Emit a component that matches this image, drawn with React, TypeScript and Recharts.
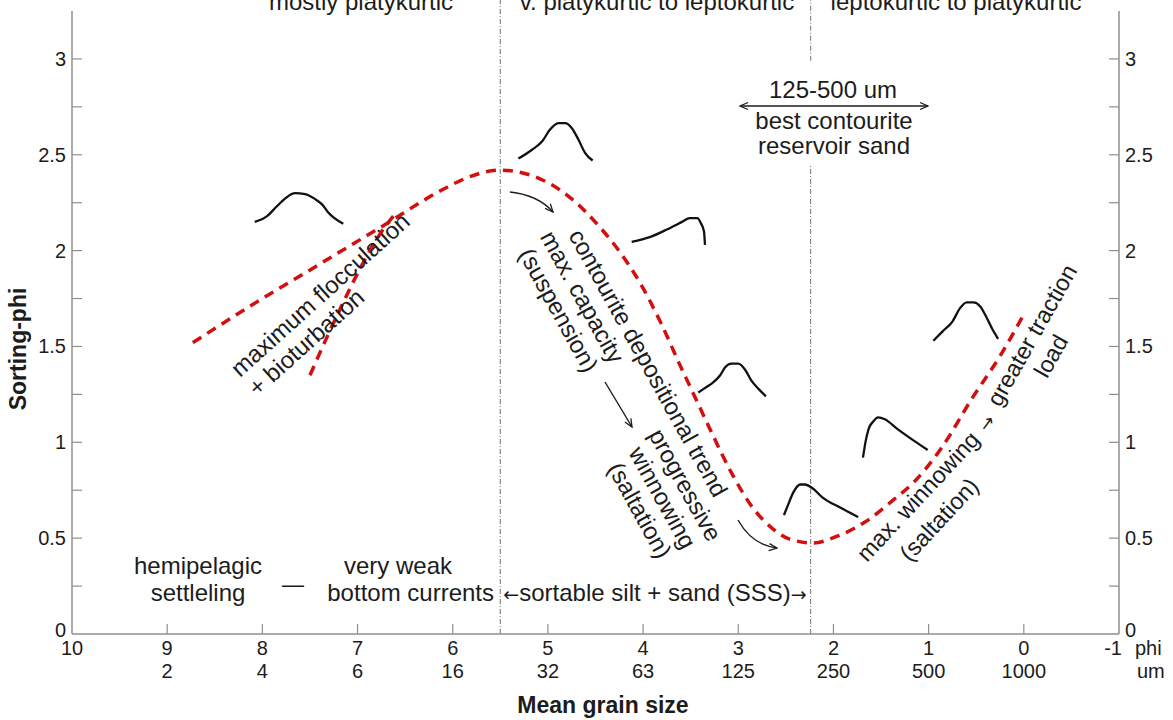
import React from "react";
import { LineChart, Line, XAxis, YAxis, ReferenceLine } from "recharts";

const W = 1173;
const H = 720;
const FONT = '"Liberation Sans", Arial, Helvetica, sans-serif';
const ARROW_FONT = '"DejaVu Sans", sans-serif';
const INK = "#1c1c1c";
const AXIS = "#8f8f8f";
const TREND_RED = "#d20f0f";

// phi scale along the bottom, micron sizes printed underneath
const PHI_TICKS = [10, 9, 8, 7, 6, 5, 4, 3, 2, 1, 0, -1];
const UM_LABELS = ["", "2", "4", "6", "16", "32", "63", "125", "250", "500", "1000", ""];
const SORT_TICKS = [0, 0.25, 0.5, 0.75, 1, 1.25, 1.5, 1.75, 2, 2.25, 2.5, 2.75, 3];

// kurtosis zone boundaries (phi)
const ZONE_BOUNDS = [5.5, 2.24];

// contourite depositional trend (red dashed)
const TREND_PHI = [8.73, 8.13, 7.43, 6.73, 6.1, 5.85, 5.5, 5.16, 4.8, 4.45, 4.24, 4.03, 3.82, 3.61, 3.43, 3.27, 3.06, 2.85, 2.64, 2.46, 2.21, 1.96, 1.65, 1.37, 1.16, 0.88, 0.53, 0.25, 0.02];
const TREND_SORT = [1.52, 1.71, 1.92, 2.13, 2.32, 2.38, 2.42, 2.39, 2.29, 2.12, 1.99, 1.83, 1.63, 1.4, 1.21, 1.04, 0.83, 0.66, 0.55, 0.495, 0.475, 0.51, 0.59, 0.7, 0.79, 0.96, 1.24, 1.45, 1.65];

// flocculation / bioturbation branch
const FLOC_PHI = [7.5, 7.32, 7.15, 6.97, 6.76, 6.59];
const FLOC_SORT = [1.35, 1.55, 1.73, 1.91, 2.09, 2.2];

// grain-size distribution sketches, [phi, sorting]
const DIST_A = [[8.08, 2.15], [7.95, 2.18], [7.85, 2.23], [7.74, 2.28], [7.66, 2.3], [7.55, 2.295], [7.45, 2.27], [7.37, 2.24], [7.31, 2.2], [7.15, 2.14]];
const DIST_B = [[5.31, 2.48], [5.17, 2.525], [5.06, 2.57], [4.98, 2.63], [4.89, 2.665], [4.82, 2.665], [4.75, 2.64], [4.68, 2.58], [4.61, 2.51], [4.53, 2.47]];
const DIST_C = [[4.12, 2.045], [3.93, 2.07], [3.75, 2.11], [3.59, 2.15], [3.51, 2.17], [3.43, 2.17], [3.39, 2.14], [3.36, 2.1], [3.35, 2.03]];
const DIST_D = [[3.42, 1.26], [3.33, 1.29], [3.27, 1.31], [3.19, 1.35], [3.14, 1.39], [3.07, 1.41], [3.0, 1.41], [2.93, 1.38], [2.86, 1.32], [2.79, 1.28], [2.71, 1.24]];
const DIST_E = [[2.52, 0.62], [2.48, 0.67], [2.42, 0.74], [2.35, 0.78], [2.3, 0.78], [2.22, 0.76], [2.11, 0.71], [1.93, 0.66], [1.74, 0.61]];
const DIST_F = [[1.69, 0.92], [1.66, 1.01], [1.63, 1.07], [1.58, 1.11], [1.53, 1.13], [1.46, 1.12], [1.33, 1.07], [1.16, 1.01], [1.01, 0.96]];
const DIST_G = [[0.95, 1.53], [0.85, 1.58], [0.75, 1.63], [0.67, 1.7], [0.6, 1.73], [0.53, 1.73], [0.46, 1.71], [0.39, 1.65], [0.33, 1.59], [0.27, 1.54]];

const ZONE_LABELS = ["mostly platykurtic", "v. platykurtic to leptokurtic", "leptokurtic to platykurtic"];

const trendData = TREND_PHI.map((phi, i) => ({ phi, sort: TREND_SORT[i] }));
const flocData = FLOC_PHI.map((phi, i) => ({ phi, sort: FLOC_SORT[i] }));
const distData = [DIST_A, DIST_B, DIST_C, DIST_D, DIST_E, DIST_F, DIST_G].map((pts) =>
  pts.map(([phi, sort]) => ({ phi, sort }))
);

const txt = { fontFamily: FONT, fill: INK } as const;

function PhiTick(props: any) {
  const { x, y, payload } = props;
  const v = payload.value;
  const um = UM_LABELS[PHI_TICKS.indexOf(v)];
  const edge = v === 10 || v === -1;
  return (
    <g>
      {!edge && <line x1={x} x2={x} y1={y} y2={y - 10} stroke={AXIS} strokeWidth={1.2} />}
      {v === -1 ? (
        <>
          <text {...txt} x={x + 3} y={y + 21} fontSize={20} textAnchor="end">-1</text>
          <text {...txt} x={x + 16} y={y + 21} fontSize={20}>phi</text>
          <text {...txt} x={x + 18} y={y + 44} fontSize={20}>um</text>
        </>
      ) : (
        <text {...txt} x={x} y={y + 21} fontSize={20} textAnchor="middle">{v}</text>
      )}
      {um && (
        <text {...txt} x={x} y={y + 44} fontSize={20} textAnchor="middle">{um}</text>
      )}
    </g>
  );
}

function LeftTick(props: any) {
  const { x, y, payload } = props;
  const v = payload.value;
  const ax = x + 6;
  return (
    <g>
      {v > 0 && <line x1={ax} x2={ax + 10} y1={y} y2={y} stroke={AXIS} strokeWidth={1.2} />}
      {v % 0.5 === 0 && (
        <text {...txt} x={x} y={v === 0 ? y - 4 : y} dy="0.35em" fontSize={20} textAnchor="end">{v}</text>
      )}
    </g>
  );
}

function RightTick(props: any) {
  const { x, y, payload } = props;
  const v = payload.value;
  const ax = x - 6;
  return (
    <g>
      {v > 0 && <line x1={ax} x2={ax - 10} y1={y} y2={y} stroke={AXIS} strokeWidth={1.2} />}
      {v % 0.5 === 0 && (
        <text {...txt} x={x} y={v === 0 ? y - 4 : y} dy="0.35em" fontSize={20} textAnchor="start">{v}</text>
      )}
    </g>
  );
}

// multi-line rotated note; (x, y) is the baseline anchor of the first line
function Note({ x, y, angle = 0, lines, anchor = "middle", gap = 26, size = 24 }: any) {
  return (
    <g transform={`translate(${x},${y}) rotate(${angle})`}>
      {lines.map((s: string, i: number) => (
        <text key={i} {...txt} x={0} y={i * gap} fontSize={size} textAnchor={anchor}>{s}</text>
      ))}
    </g>
  );
}

const Arrow = ({ ch, size = 19 }: { ch: string; size?: number }) => (
  <tspan fontFamily={ARROW_FONT} fontSize={size}>{ch}</tspan>
);

export default function App() {
  return (
    <div style={{ position: "relative", width: W, height: H, background: "#fff" }}>
      <style>{"body{margin:0}"}</style>
      <LineChart width={W} height={H} margin={{ top: 11, right: 14, bottom: 46, left: 32 }}>
        <XAxis
          type="number"
          dataKey="phi"
          domain={[-1, 10]}
          reversed
          allowDataOverflow
          ticks={PHI_TICKS}
          interval={0}
          height={40}
          tickSize={0}
          tickMargin={0}
          tickLine={false}
          axisLine={{ stroke: AXIS, strokeWidth: 1.5 }}
          tick={(p: any) => <PhiTick {...p} />}
        />
        <YAxis
          yAxisId="left"
          type="number"
          domain={[0, 3.25]}
          allowDataOverflow
          ticks={SORT_TICKS}
          interval={0}
          width={40}
          tickSize={0}
          tickMargin={6}
          tickLine={false}
          axisLine={{ stroke: AXIS, strokeWidth: 1.5 }}
          tick={(p: any) => <LeftTick {...p} />}
        />
        <YAxis
          yAxisId="right"
          orientation="right"
          type="number"
          domain={[0, 3.25]}
          allowDataOverflow
          ticks={SORT_TICKS}
          interval={0}
          width={40}
          tickSize={0}
          tickMargin={6}
          tickLine={false}
          axisLine={{ stroke: AXIS, strokeWidth: 1.5 }}
          tick={(p: any) => <RightTick {...p} />}
        />
        <ReferenceLine
          yAxisId="left"
          ifOverflow="visible"
          segment={[{ x: ZONE_BOUNDS[0], y: 0 }, { x: ZONE_BOUNDS[0], y: 3.31 }]}
          stroke="#8a8a8a"
          strokeWidth={1.2}
          strokeDasharray="5 2 1 2"
        />
        <ReferenceLine
          yAxisId="left"
          ifOverflow="visible"
          segment={[{ x: ZONE_BOUNDS[1], y: 0 }, { x: ZONE_BOUNDS[1], y: 2.45 }]}
          stroke="#8a8a8a"
          strokeWidth={1.2}
          strokeDasharray="5 2 1 2"
        />
        <ReferenceLine
          yAxisId="left"
          ifOverflow="visible"
          segment={[{ x: ZONE_BOUNDS[1], y: 2.99 }, { x: ZONE_BOUNDS[1], y: 3.31 }]}
          stroke="#8a8a8a"
          strokeWidth={1.2}
          strokeDasharray="5 2 1 2"
        />
        <Line
          yAxisId="left"
          data={trendData}
          dataKey="sort"
          type="monotone"
          stroke={TREND_RED}
          strokeWidth={3.5}
          strokeDasharray="10 7"
          dot={false}
          activeDot={false}
          isAnimationActive={false}
        />
        <Line
          yAxisId="left"
          data={flocData}
          dataKey="sort"
          type="monotone"
          stroke={TREND_RED}
          strokeWidth={3.5}
          strokeDasharray="10 7"
          dot={false}
          activeDot={false}
          isAnimationActive={false}
        />
        {distData.map((d, i) => (
          <Line
            key={i}
            yAxisId="left"
            data={d}
            dataKey="sort"
            type="monotone"
            stroke="#111"
            strokeWidth={2.3}
            dot={false}
            activeDot={false}
            isAnimationActive={false}
          />
        ))}
      </LineChart>

      <svg width={W} height={H} style={{ position: "absolute", left: 0, top: 0, pointerEvents: "none" }}>
        <defs>
          <marker id="head" viewBox="0 0 10 10" refX="9" refY="5" markerWidth="10" markerHeight="10"
            markerUnits="userSpaceOnUse" orient="auto-start-reverse">
            <path d="M1,1.5 L9,5 L1,8.5" fill="none" stroke={INK} strokeWidth="1.3" />
          </marker>
        </defs>

        {/* kurtosis zones along the top edge */}
        <text {...txt} x={361} y={10} fontSize={24} textAnchor="middle">{ZONE_LABELS[0]}</text>
        <text {...txt} x={657} y={10} fontSize={24} textAnchor="middle">{ZONE_LABELS[1]}</text>
        <text {...txt} x={956} y={10} fontSize={24} textAnchor="middle">{ZONE_LABELS[2]}</text>

        {/* reservoir sand window */}
        <text {...txt} x={833} y={98} fontSize={24} textAnchor="middle">125-500 um</text>
        <path d="M740,106 L928,106" stroke={INK} strokeWidth={1.4} markerStart="url(#head)" markerEnd="url(#head)" />
        <Note x={834} y={129} lines={["best contourite", "reservoir sand"]} gap={25} />

        {/* process notes */}
        <Note x={240} y={378} angle={-42} anchor="start" lines={["maximum flocculation", "+ bioturbation"]} />
        <Note x={641} y={367} angle={61} lines={["contourite depositional trend"]} />
        <Note x={575} y={301} angle={61} lines={["max. capacity", "(suspension)"]} gap={27} />
        <Note x={678} y={489} angle={61} lines={["progressive", "winnowing", "(saltation)"]} gap={26} />

        {/* rising limb: the note bends with the trend */}
        <Note x={867} y={563} angle={-47} anchor="start" size={23.5} lines={["max. winnowing"]} />
        <Note x={945} y={525} angle={-47} size={23.5} lines={["(saltation)"]} />
        <g transform="translate(992,427) rotate(-54)">
          <text {...txt} x={0} y={0} textAnchor="middle"><Arrow ch="→" size={18} /></text>
        </g>
        <Note x={1000} y={408} angle={-60.5} anchor="start" size={23.5} lines={["greater traction"]} />
        <Note x={1058} y={360} angle={-60.5} size={23.5} lines={["load"]} />

        <path d="M510,192 Q538,195 553,212" fill="none" stroke={INK} strokeWidth={1.4} markerEnd="url(#head)" />
        <path d="M605,382 L632,427" fill="none" stroke={INK} strokeWidth={1.4} markerEnd="url(#head)" />
        <path d="M738,520 Q752,545 777,548" fill="none" stroke={INK} strokeWidth={1.4} markerEnd="url(#head)" />

        {/* transport regimes above the axis */}
        <Note x={198} y={574} lines={["hemipelagic", "settleling"]} gap={27} />
        <text {...txt} x={293} y={592} fontSize={22} textAnchor="middle">—</text>
        <text {...txt} x={398} y={574} fontSize={24} textAnchor="middle">very weak</text>
        <text {...txt} x={494} y={601} fontSize={24} textAnchor="end">bottom currents</text>
        <text {...txt} x={655} y={601} fontSize={24} textAnchor="middle">
          <Arrow ch="←" />sortable silt + sand (SSS)<Arrow ch="→" />
        </text>

        {/* axis titles */}
        <text {...txt} x={603} y={713} fontSize={23} fontWeight="bold" textAnchor="middle">Mean grain size</text>
        <text {...txt} transform="translate(26,349) rotate(-90)" fontSize={23} fontWeight="bold" textAnchor="middle">Sorting-phi</text>
      </svg>
    </div>
  );
}
